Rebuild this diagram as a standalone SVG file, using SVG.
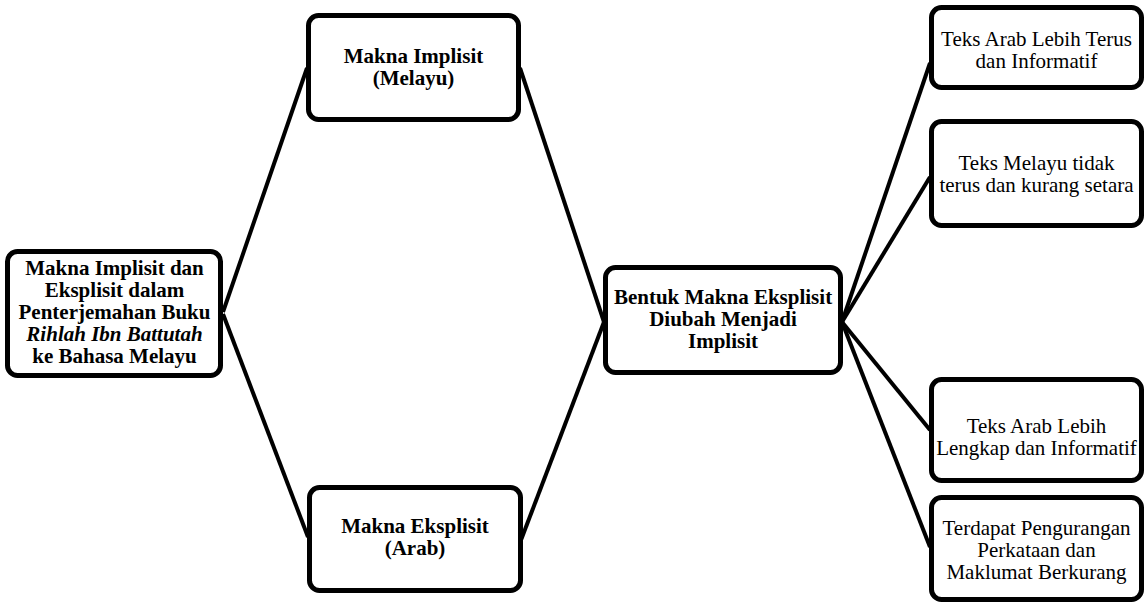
<svg xmlns="http://www.w3.org/2000/svg" width="1145" height="603" viewBox="0 0 1145 603">
<style>
.box{fill:#fff;stroke:#000;stroke-width:5}
.ln{stroke:#000;stroke-width:4;fill:none}
.b{font-family:"Liberation Serif","Times New Roman",serif;font-weight:bold;font-size:21px;text-anchor:middle;fill:#000}
.r{font-family:"Liberation Serif","Times New Roman",serif;font-size:21px;text-anchor:middle;fill:#000}
</style>
<rect width="1145" height="603" fill="#fff"/>
<g id="connectors">
<line class="ln" x1="223" y1="312" x2="307" y2="68"/>
<line class="ln" x1="223" y1="314" x2="308" y2="537"/>
<line class="ln" x1="520" y1="68" x2="604" y2="322"/>
<line class="ln" x1="521" y1="540" x2="604" y2="322"/>
<line class="ln" x1="842" y1="322" x2="930" y2="63"/>
<line class="ln" x1="842" y1="322" x2="930" y2="177"/>
<line class="ln" x1="842" y1="322" x2="930" y2="430"/>
<line class="ln" x1="842" y1="322" x2="930" y2="547"/>
</g>
<g id="root">
<rect class="box" x="7.5" y="251.5" width="213" height="124" rx="10"/>
<text class="b" x="114.5" y="275">Makna Implisit dan</text>
<text class="b" x="114.5" y="297">Eksplisit dalam</text>
<text class="b" x="114.5" y="319">Penterjemahan Buku</text>
<text class="b" x="114.5" y="341" font-style="italic">Rihlah Ibn Battutah</text>
<text class="b" x="114.5" y="363">ke Bahasa Melayu</text>
</g>
<g id="implisit">
<rect class="box" x="308.5" y="15.5" width="210" height="104" rx="10"/>
<text class="b" x="413.5" y="63">Makna Implisit</text>
<text class="b" x="413.5" y="85">(Melayu)</text>
</g>
<g id="eksplisit">
<rect class="box" x="309.5" y="487.5" width="211" height="103" rx="10"/>
<text class="b" x="415" y="533">Makna Eksplisit</text>
<text class="b" x="415" y="555">(Arab)</text>
</g>
<g id="bentuk">
<rect class="box" x="605.5" y="267.5" width="235" height="105" rx="10"/>
<text class="b" x="723" y="304">Bentuk Makna Eksplisit</text>
<text class="b" x="723" y="326">Diubah Menjadi</text>
<text class="b" x="723" y="348">Implisit</text>
</g>
<g id="r1">
<rect class="box" x="931.5" y="7.5" width="210" height="80" rx="10"/>
<text class="r" x="1036.5" y="46">Teks Arab Lebih Terus</text>
<text class="r" x="1036.5" y="68">dan Informatif</text>
</g>
<g id="r2">
<rect class="box" x="931.5" y="121.5" width="210" height="104" rx="10"/>
<text class="r" x="1036.5" y="170">Teks Melayu tidak</text>
<text class="r" x="1036.5" y="192">terus dan kurang setara</text>
</g>
<g id="r3">
<rect class="box" x="931.5" y="379.5" width="210" height="101" rx="10"/>
<text class="r" x="1036.5" y="433">Teks Arab Lebih</text>
<text class="r" x="1036.5" y="455">Lengkap dan Informatif</text>
</g>
<g id="r4">
<rect class="box" x="931.5" y="497.5" width="210" height="102" rx="10"/>
<text class="r" x="1036.5" y="535">Terdapat Pengurangan</text>
<text class="r" x="1036.5" y="557">Perkataan dan</text>
<text class="r" x="1036.5" y="579">Maklumat Berkurang</text>
</g>
</svg>
